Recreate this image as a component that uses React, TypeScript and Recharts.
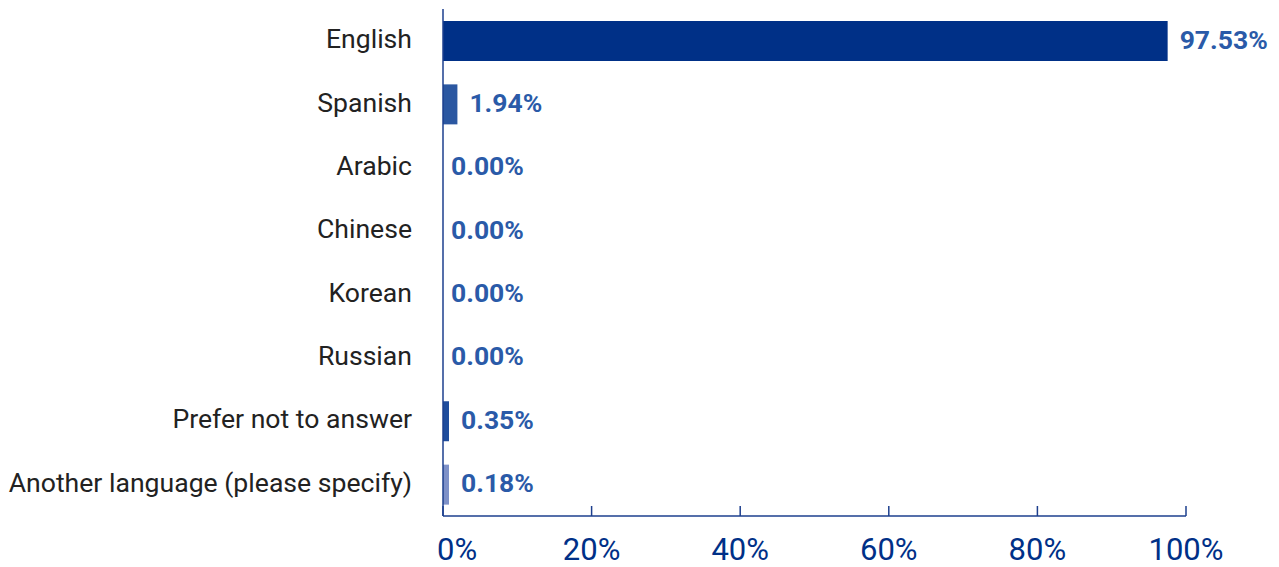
import { Bar, BarChart, Cell, LabelList, XAxis, YAxis } from "recharts";

const languages = [
  "English",
  "Spanish",
  "Arabic",
  "Chinese",
  "Korean",
  "Russian",
  "Prefer not to answer",
  "Another language (please specify)",
];
const shares = [97.53, 1.94, 0, 0, 0, 0, 0.35, 0.18];
const barColors = ["#003087", "#2b57a1", "#2b57a1", "#2b57a1", "#2b57a1", "#2b57a1", "#1f4c9c", "#7e91c8"];
const xTicks = [0, 20, 40, 60, 80, 100];

const data = languages.map((label, i) => ({ label, value: shares[i] }));

const AXIS = "#1d3f8e";

function XTick(props: any) {
  const { x, y, payload, index } = props;
  return (
    <g>
      <line x1={x} x2={x} y1={y - 10} y2={y} stroke={AXIS} strokeWidth={1.5} />
      <text
        x={index === 0 ? x - 6 : x}
        y={y + 44}
        textAnchor={index === 0 ? "start" : "middle"}
        fill="#003087"
        fontSize={31}
        fontFamily="Roboto"
      >
        {payload.value}%
      </text>
    </g>
  );
}

function YTick(props: any) {
  const { x, y, payload } = props;
  return (
    <text
      x={x}
      y={y - 2}
      textAnchor="end"
      dominantBaseline="central"
      fill="#222222"
      fontSize={26.6}
      fontFamily="Roboto"
    >
      {payload.value}
    </text>
  );
}

function ValueLabel(props: any) {
  const { x, y, width, height, value } = props;
  const gap = value > 0 ? 12 : 8;
  return (
    <text
      x={x + width + gap}
      y={y + height / 2 - 2}
      dominantBaseline="central"
      fill="#2a5aa8"
      fontSize={26.5}
      fontWeight={700}
      fontFamily="Roboto"
    >
      {`${Number(value).toFixed(2)}%`}
    </text>
  );
}

export default function App() {
  return (
    <div style={{ width: 1263, height: 559, fontFamily: "Roboto" }}>
      <BarChart
        width={1263}
        height={559}
        data={data}
        layout="vertical"
        barSize={40}
        margin={{ top: 1, right: 85, left: 0, bottom: 0 }}
      >
        <XAxis
          type="number"
          domain={[0, 100]}
          ticks={xTicks}
          height={51}
          tickLine={false}
          tickSize={0}
          tickMargin={0}
          axisLine={{ stroke: AXIS, strokeWidth: 1.5 }}
          tick={<XTick />}
          interval={0}
        />
        <YAxis
          dataKey="label"
          type="category"
          width={435}
          tickLine={false}
          tickSize={0}
          tickMargin={31}
          axisLine={{ stroke: AXIS, strokeWidth: 1.5 }}
          tick={<YTick />}
          interval={0}
        />
        <Bar
          dataKey="value"
          isAnimationActive={false}
          minPointSize={(v: number) => (v > 0 ? 6 : 0.01)}
        >
          {data.map((d, i) => (
            <Cell key={d.label} fill={barColors[i]} />
          ))}
          <LabelList dataKey="value" content={<ValueLabel />} />
        </Bar>
      </BarChart>
    </div>
  );
}
